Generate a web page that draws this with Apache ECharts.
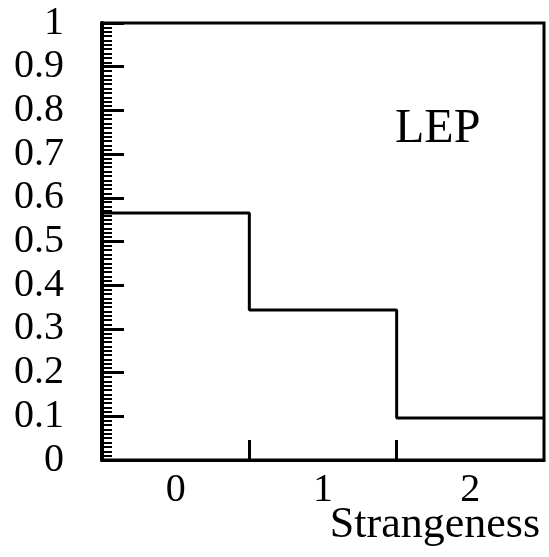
<!DOCTYPE html>
<html>
<head>
<meta charset="utf-8">
<script src="https://cdn.jsdelivr.net/npm/echarts@6/dist/echarts.min.js"></script>
<style>
  html, body { margin: 0; padding: 0; background: #fff; }
  #chart { width: 549px; height: 557px; }
</style>
</head>
<body>
<div id="chart"></div>
<script>
// Strangeness bins and their fractions (LEP)
const strangeness = [0, 1, 2];
const binEdges = [-0.5, 0.5, 1.5, 2.5];
const fractions = [0.565, 0.343, 0.096];
const xLabelValues = [0, 1, 2];
const xTickValues = [0.5, 1.5];

// Step outline: each bin starts at its lower edge, closes at the last edge
const stepData = strangeness.map((s, i) => [binEdges[i], fractions[i]]);
stepData.push([binEdges[binEdges.length - 1], fractions[fractions.length - 1]]);

const serif = 'Liberation Serif';
const chart = echarts.init(document.getElementById('chart'), null, { renderer: 'canvas' });

chart.setOption({
  animation: false,
  backgroundColor: '#fff',
  title: [
    { text: 'LEP', left: 390, top: 100,
      textStyle: { fontFamily: serif, fontSize: 48, fontWeight: 'normal', color: '#000' } },
    { text: 'Strangeness', right: 4, top: 498,
      textStyle: { fontFamily: serif, fontSize: 44, fontWeight: 'normal', color: '#000' } }
  ],
  grid: {
    left: 102, right: 5, top: 23, bottom: 97,
    show: true, borderColor: '#000', borderWidth: 3, backgroundColor: 'transparent'
  },
  xAxis: {
    type: 'value', min: -0.5, max: 2.5,
    axisLine: { show: true, onZero: false, lineStyle: { color: '#000', width: 3 } },
    axisTick: { show: true, inside: true, length: 20, customValues: xTickValues,
      lineStyle: { color: '#000', width: 3 } },
    axisLabel: { show: true, customValues: xLabelValues, margin: 10,
      fontFamily: serif, fontSize: 40, color: '#000' },
    splitLine: { show: false }
  },
  yAxis: {
    type: 'value', min: 0, max: 1, interval: 0.1,
    axisLine: { show: true, onZero: false, lineStyle: { color: '#000', width: 4 } },
    axisTick: { show: true, inside: true, length: 22, lineStyle: { color: '#000', width: 3 } },
    minorTick: { show: true, splitNumber: 10, length: 10, lineStyle: { color: '#000', width: 2 } },
    axisLabel: { margin: 38, fontFamily: serif, fontSize: 40, color: '#000', padding: [5, 0, 0, 0],
      formatter: v => (Math.abs(v) < 1e-9 ? '0' : Math.abs(v - 1) < 1e-9 ? '1' : v.toFixed(1)) },
    splitLine: { show: false }
  },
  series: [{
    type: 'line',
    step: 'end',
    data: stepData,
    symbol: 'none',
    lineStyle: { color: '#000', width: 3 }
  }]
});
</script>
</body>
</html>
